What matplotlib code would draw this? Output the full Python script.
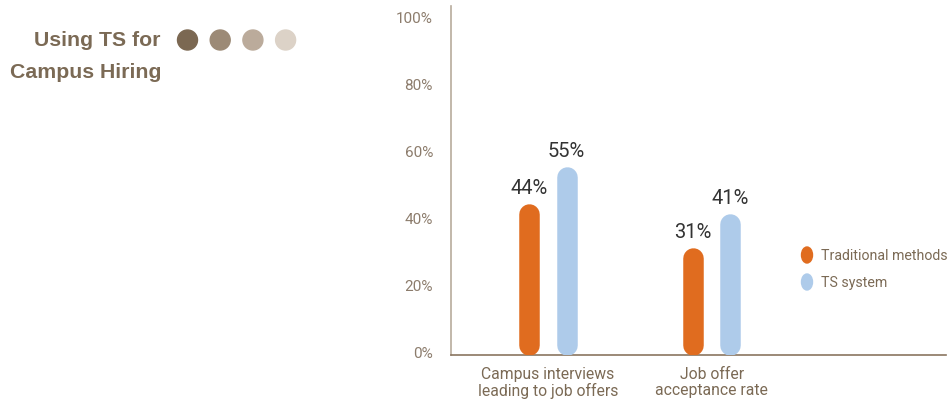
import matplotlib
matplotlib.use("Agg")
import matplotlib.pyplot as plt
from matplotlib.patches import Ellipse
from matplotlib.lines import Line2D

categories = ["Campus interviews\nleading to job offers", "Job offer\nacceptance rate"]
series_names = ["Traditional methods", "TS system"]
traditional = [44, 31]
ts_system = [55, 41]
yticks = [0, 20, 40, 60, 80, 100]
ytick_labels = ["0%", "20%", "40%", "60%", "80%", "100%"]
title_lines = ["Using TS for", "Campus Hiring"]

ORANGE = "#e06c1f"
BLUE = "#aecbea"
BROWN = "#7b6a55"
TICK_C = "#8c7c6c"
SPINE_Y = "#b8ab9c"
SPINE_X = "#8a7560"
DOTS = ["#7b6852", "#9c8a76", "#bbab9b", "#dcd2c7"]

NARROW = ["Roboto", "DejaVu Sans"]

W, H = 948, 406
fig = plt.figure(figsize=(W / 100, H / 100), dpi=100)
ax = fig.add_axes([451 / W, 1 - 356 / H, 495 / W, 349 / H])
ax.set_ylim(-1, 103)
ax.set_xlim(-0.59, 2.43)

for s in ["top", "right"]:
    ax.spines[s].set_visible(False)
ax.spines["left"].set_color(SPINE_Y)
ax.spines["bottom"].set_color(SPINE_X)
ax.spines["left"].set_linewidth(1.2)
ax.spines["bottom"].set_linewidth(1.2)
ax.set_yticks(yticks)
ax.set_yticklabels(ytick_labels, family=NARROW, fontsize=11, color=TICK_C)
ax.tick_params(axis="y", length=0, pad=13)
ax.set_xticks(range(len(categories)))
ax.set_xticklabels(categories, family=NARROW, fontsize=11.3, color=BROWN, linespacing=1.1)
ax.tick_params(axis="x", length=0, pad=8)

fig.canvas.draw()
# pixel scale for rounded bar caps
bar_px = 20.5
p0 = ax.transData.transform((0, 0))
p1 = ax.transData.transform((0, 1))
ppu_y = p1[1] - p0[1]
r = (bar_px / 2) / ppu_y
lw_pt = bar_px * 72 / fig.dpi
offsets = [-0.115, 0.115]
base = -1
for si, (vals, col) in enumerate([(traditional, ORANGE), (ts_system, BLUE)]):
    for ci, v in enumerate(vals):
        x = ci + offsets[si]
        ax.add_line(Line2D([x, x], [base + r, v - r], lw=lw_pt, color=col,
                           solid_capstyle="round", zorder=3))
        ax.annotate(f"{v}%", (x, v), xytext=(0, 5), textcoords="offset points",
                    ha="center", va="bottom", family=NARROW, fontsize=14.5, color="#333333")

# Title
fig.text(161 / W, 1 - 41 / H, title_lines[0], ha="right", va="center",
         fontsize=15.3, fontweight="bold", color=BROWN, family="Liberation Sans")
fig.text(161 / W, 1 - 72 / H, title_lines[1], ha="right", va="center",
         fontsize=15.3, fontweight="bold", color=BROWN, family="Liberation Sans")
for i, c in enumerate(DOTS):
    cx = 187.5 + i * 32.7
    fig.patches.append(Ellipse((cx / W, 1 - 41 / H), 20 / W, 20 / H,
                               transform=fig.transFigure, color=c))

# Legend
leg_y = [256, 283]
for name, col, y in zip(series_names, [ORANGE, BLUE], leg_y):
    fig.patches.append(Ellipse((807 / W, 1 - y / H), 11 / W, 16 / H,
                               transform=fig.transFigure, color=col))
    fig.text(821 / W, 1 - y / H, name, ha="left", va="center",
             family=NARROW, fontsize=10.2, color=BROWN)

fig.savefig("out.png", dpi=100)
